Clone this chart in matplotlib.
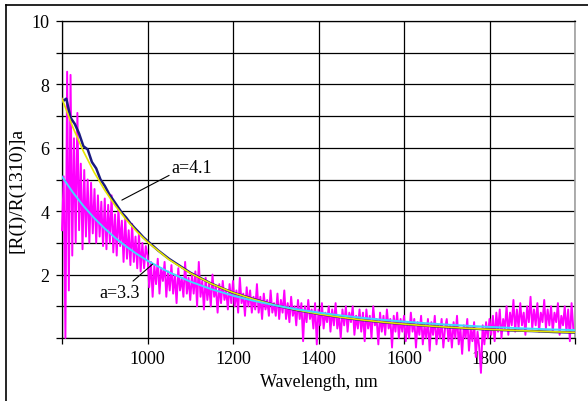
"""
Normalised reflectance spectrum [R(l)/R(1310)]^a with the two power-law fits
"""

import numpy as np
import matplotlib.pyplot as plt

# ============================================================================
# Data
# ============================================================================
# measured (noisy) spectrum, every 4 nm from 800 to 1996 nm
wl_meas = np.arange(800, 2000, 4)
r_meas = [
    # 800 - 896
    3.4, 5.1, 0.0, 8.4, 1.5, 8.3, 2.6, 6.3, 3.0, 7.1, 3.4, 5.5, 2.8,
    5.3, 3.2, 5.0, 3.0, 4.9, 3.3, 4.7, 3.0, 4.5, 3.2, 4.3, 2.9,
    # 900 - 996
    4.4, 2.8, 4.2, 3.0, 4.5, 2.7, 3.9, 2.6, 4.1, 2.9, 3.7, 2.4, 3.8,
    2.5, 3.4, 2.3, 3.6, 2.4, 3.2, 2.2, 3.3, 2.1, 3.0, 2.2, 2.9,
    # 1000 - 1096
    2.6, 1.6, 2.4, 1.3, 2.3, 1.7, 2.5, 1.4, 2.2, 1.8, 2.4, 1.3, 2.1,
    1.5, 2.3, 1.4, 2.0, 1.1, 2.2, 1.5, 1.9, 1.3, 2.4, 1.4, 1.9,
    # 1100 - 1196
    1.2, 2.0, 1.4, 2.1, 1.0, 2.4, 1.3, 1.8, 0.9, 1.9, 1.2, 1.7, 1.0,
    2.0, 1.3, 1.6, 0.8, 1.7, 1.1, 1.8, 1.2, 1.5, 0.9, 1.7, 1.1,
    # 1200 - 1296
    1.8, 1.0, 1.5, 0.8, 1.9, 1.1, 1.4, 0.7, 1.6, 1.0, 1.5, 0.8, 1.3,
    0.9, 1.7, 0.8, 1.3, 0.6, 1.4, 0.9, 1.2, 0.7, 1.5, 0.8, 1.1,
    # 1300 - 1396
    0.7, 1.4, 0.6, 1.2, 0.8, 1.5, 0.6, 1.1, 0.5, 1.3, 0.7, 1.0, 0.4,
    1.2, 0.6, 1.1, -0.1, 1.0, 0.5, 1.2, 0.6, 0.9, 0.3, 1.1, -0.2,
    # 1400 - 1496
    0.9, 0.4, 1.1, 0.3, 0.8, 0.5, 1.0, 0.2, 0.9, 0.4, 1.1, 0.3, 0.7,
    0.0, 0.9, 0.4, 1.0, 0.2, 0.8, 0.5, 1.0, 0.1, 0.7, 0.3, 0.9,
    # 1500 - 1596
    0.2, 0.8, -0.1, 0.9, 0.3, 0.7, 0.0, 1.0, 0.4, 0.6, -0.2, 0.8, 0.2,
    0.7, 0.1, 0.9, 0.3, 0.6, -0.3, 0.7, 0.2, 0.8, 0.0, 0.6, 0.2,
    # 1600 - 1696
    0.7, -0.1, 0.5, 0.0, 0.8, 0.2, 0.6, -0.3, 0.5, 0.1, 0.7, -0.2, 0.4,
    0.0, 0.6, -0.4, 0.5, 0.1, 0.7, -0.2, 0.4, 0.0, 0.6, -0.3, 0.3,
    # 1700 - 1796
    0.6, -0.1, 0.4, -0.3, 0.5, 0.0, 0.7, -0.2, 0.3, -0.5, 0.4, 0.0, 0.6,
    -0.4, 0.3, -0.1, 0.5, -0.6, 0.2, -0.3, -1.1, 0.4, -0.2, 0.5, 0.0,
    # 1800 - 1896
    0.6, 0.1, 0.7, -0.1, 0.8, 0.2, 0.9, 0.0, 0.6, 0.3, 1.0, 0.1, 0.8,
    0.4, 1.2, 0.2, 0.9, 0.3, 1.1, 0.4, 0.8, 0.1, 1.0, 0.5, 1.3,
    # 1900 - 1996
    0.3, 0.9, 0.4, 1.1, 0.2, 0.8, 0.5, 1.2, 0.3, 0.9, 0.4, 1.0, 0.2,
    0.8, 0.5, 1.1, 0.1, 0.7, 0.4, 1.0, 0.2, 0.9, -0.1, 1.1, 0.3,
]

# second (smoother) spectrum lying under the a=4.1 curve
wl_navy = [800, 810, 820, 830, 840, 850, 860, 870, 880, 890, 900, 910, 920,
           930, 940, 950, 960, 970, 980, 990, 1000, 1025, 1050, 1075, 1100,
           1150, 1200, 1250, 1300, 1350, 1400, 1450, 1500, 1550, 1600, 1650,
           1700, 1750, 1800, 1850, 1900, 1950, 2000]
r_navy = [7.45, 7.55, 6.95, 6.75, 6.45, 6.05, 5.95, 5.55, 5.35, 5.0, 4.8,
          4.55, 4.35, 4.15, 3.95, 3.8, 3.62, 3.47, 3.33, 3.18, 3.06, 2.76,
          2.50, 2.28, 2.06, 1.71, 1.43, 1.22, 1.03, 0.88, 0.76, 0.66, 0.57,
          0.50, 0.44, 0.39, 0.34, 0.30, 0.27, 0.24, 0.22, 0.19, 0.17]

# fitted curves
wl_fit = [800, 825, 850, 875, 900, 925, 950, 975, 1000, 1050, 1100, 1150,
          1200, 1250, 1300, 1350, 1400, 1450, 1500, 1550, 1600, 1650, 1700,
          1750, 1800, 1850, 1900, 1950, 2000]
fit_41 = [7.553, 6.659, 5.891, 5.231, 4.661, 4.166, 3.734, 3.356, 3.026,
          2.477, 2.047, 1.706, 1.433, 1.212, 1.032, 0.884, 0.762, 0.659,
          0.574, 0.502, 0.440, 0.388, 0.344, 0.305, 0.272, 0.243, 0.218,
          0.196, 0.176]
fit_33 = [5.091, 4.600, 4.168, 3.788, 3.452, 3.153, 2.888, 2.650, 2.438,
          2.075, 1.780, 1.537, 1.336, 1.167, 1.026, 0.906, 0.803, 0.715,
          0.640, 0.574, 0.517, 0.467, 0.423, 0.385, 0.350, 0.320, 0.293,
          0.269, 0.248]

x_ticks = [800, 1000, 1200, 1400, 1600, 1800, 2000]
x_ticklabels = ['', '1000', '1200', '1400', '1600', '1800', '']
y_ticks = [0, 1, 2, 3, 4, 5, 6, 7, 8, 9, 10]
y_ticklabels = ['', '', '2', '', '4', '', '6', '', '8', '', '10']

# ============================================================================
# Plot
# ============================================================================
plt.rcParams['font.family'] = ['Liberation Serif', 'DejaVu Serif']

W, H = 588, 402
fig = plt.figure(figsize=(W / 100, H / 100), dpi=100)
ax = fig.add_axes([62 / W, 1 - 339 / H, (575 - 62) / W, (339 - 22) / H])

ax.plot(wl_meas, r_meas, color='#ff00ff', lw=1.4, clip_on=False, zorder=3)
ax.plot(wl_navy, r_navy, color='#1a1a80', lw=1.8, zorder=4)
ax.plot(wl_fit, fit_41, color='#e6e600', lw=1.2, zorder=5)
ax.plot(wl_fit, fit_33, color='#40d8ff', lw=1.4, zorder=5)

ax.set_xlim(800, 2000)
ax.set_ylim(0, 10)
ax.set_xticks(x_ticks)
ax.set_xticklabels(x_ticklabels, fontsize=13)
ax.set_yticks(y_ticks)
ax.set_yticklabels(y_ticklabels, fontsize=13)
ax.tick_params(direction='out', length=4, width=0.9, pad=5)

ax.grid(True, color='black', lw=0.9)
ax.set_axisbelow(True)
for side in ['left', 'bottom', 'top']:
    ax.spines[side].set_linewidth(0.9)
ax.spines['right'].set_color('#a0a0a0')
ax.spines['right'].set_linewidth(1.2)

ax.set_xlabel('Wavelength, nm', fontsize=13, labelpad=4)
ax.set_ylabel('[R(I)/R(1310)]a', fontsize=14)
ax.yaxis.set_label_coords(-0.072, 0.47)

# labels for the two fits
ax.annotate('a=4.1', xy=(940, 4.35), xytext=(1057, 5.39), fontsize=13,
            ha='left', va='center', zorder=6,
            arrowprops=dict(arrowstyle='-', lw=0.8, color='black',
                            relpos=(0, 0.1), shrinkA=0, shrinkB=0))
ax.annotate('a=3.3', xy=(1012, 2.33), xytext=(935, 1.44), fontsize=13,
            ha='center', va='center', zorder=6,
            arrowprops=dict(arrowstyle='-', lw=0.8, color='black',
                            relpos=(0.75, 1), shrinkA=0, shrinkB=0))

# outer frame (left and top edges only are visible)
fig.add_artist(plt.Line2D([6 / W, 6 / W], [0, 1 - 6 / H], color='black', lw=1.2))
fig.add_artist(plt.Line2D([6 / W, 1], [1 - 6 / H, 1 - 6 / H], color='black', lw=1.2))

plt.savefig('out.png', dpi=100)
